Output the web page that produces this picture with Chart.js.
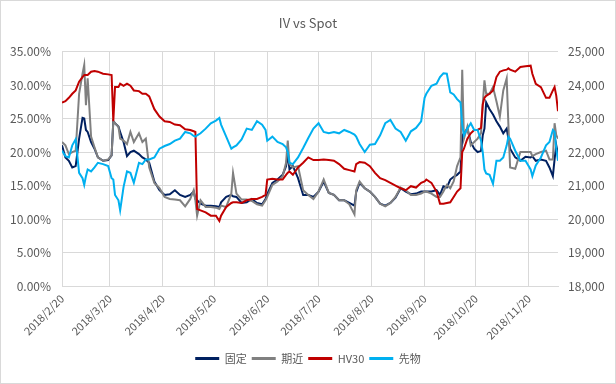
<!DOCTYPE html>
<html>
<head>
<meta charset="utf-8">
<title>IV vs Spot</title>
<script src="https://cdn.jsdelivr.net/npm/chart.js@4.4.0/dist/chart.umd.min.js"></script>
<style>
  html, body { margin: 0; padding: 0; background: #fff; }
  #wrap { width: 616px; height: 384px; }
</style>
</head>
<body>
<div id="wrap"><canvas id="ivChart" width="616" height="384"></canvas></div>
<script>
const dates = [
  '2/20', '2/22', '2/24', '2/26', '2/28', '3/2', '3/4', '3/5', '3/6', '3/7',
  '3/9', '3/11', '3/13', '3/16', '3/19', '3/21', '3/22', '3/23', '3/25', '3/26',
  '3/28', '3/30', '4/1', '4/3', '4/6', '4/8', '4/10', '4/12', '4/15', '4/18',
  '4/21', '4/24', '4/27', '4/30', '5/3', '5/6', '5/8', '5/9', '5/10', '5/12',
  '5/15', '5/18', '5/21', '5/23', '5/24', '5/27', '5/30', '5/31', '6/2', '6/5',
  '6/8', '6/11', '6/14', '6/17', '6/19', '6/20', '6/23', '6/26', '6/29', '7/1',
  '7/2', '7/3', '7/5', '7/8', '7/11', '7/14', '7/17', '7/20', '7/23', '7/26',
  '7/29', '8/1', '8/4', '8/7', '8/10', '8/11', '8/13', '8/16', '8/19', '8/22',
  '8/25', '8/28', '8/31', '9/3', '9/6', '9/9', '9/12', '9/15', '9/18', '9/20',
  '9/21', '9/24', '9/27', '9/29', '10/1', '10/3', '10/5', '10/7', '10/9', '10/11',
  '10/12', '10/13', '10/15', '10/17', '10/19', '10/21', '10/23', '10/24', '10/25', '10/26',
  '10/28', '10/30', '11/1', '11/3', '11/5', '11/7', '11/8', '11/9', '11/12', '11/15',
  '11/18', '11/21', '11/22', '11/24', '11/27', '11/30', '12/2', '12/4', '12/5', '12/6',
  '12/7'
];

// 固定 (%)
const fixedIV = [
  21.0, 19.2, 18.7, 17.7, 17.9, 22.0, 25.1, 25.0, 23.3, 23.0,
  21.5, 20.5, 19.2, 18.7, 18.8, 19.5, 24.6, 24.3, 23.8, 23.0,
  21.5, 19.4, 20.0, 20.2, 19.7, 19.2, 18.9, 18.4, 15.6, 14.3,
  13.6, 13.7, 14.3, 13.6, 13.3, 13.6, 14.1, 13.0, 12.8, 12.3,
  12.0, 12.0, 11.9, 11.8, 12.5, 13.3, 13.6, 13.4, 13.3, 12.4,
  12.5, 13.0, 12.4, 12.2, 13.0, 13.7, 15.4, 15.9, 16.6, 17.9,
  19.7, 17.4, 17.9, 16.1, 13.6, 13.6, 13.3, 14.1, 15.6, 13.9,
  13.6, 12.8, 12.8, 12.4, 12.0, 14.0, 15.4, 14.6, 14.1, 13.3,
  12.3, 12.0, 12.4, 13.2, 14.6, 14.1, 13.7, 13.8, 14.1, 14.1,
  14.1, 14.1, 14.3, 13.6, 14.9, 14.7, 15.9, 16.3, 16.6, 17.1,
  22.5, 22.8, 23.5, 21.5, 20.5, 20.0, 20.2, 22.5, 23.5, 27.4,
  26.4, 25.6, 24.6, 23.8, 22.8, 23.5, 22.0, 20.5, 19.2, 18.7,
  19.3, 19.2, 19.4, 18.7, 18.9, 18.7, 17.7, 16.4, 18.9, 21.0,
  19.7
];

// 期近 (%)
const nearIV = [
  21.5, 21.0, 19.7, 20.0, 20.2, 28.7, 31.7, 33.0, 27.0, 31.0,
  22.3, 20.7, 19.2, 18.7, 18.9, 19.5, 24.6, 24.3, 23.8, 22.0,
  21.7, 21.2, 23.0, 21.5, 22.8, 21.5, 22.0, 17.7, 15.4, 14.6,
  13.3, 13.0, 12.9, 12.8, 11.9, 13.0, 14.3, 12.8, 10.5, 12.8,
  11.8, 11.8, 11.7, 11.5, 12.0, 11.8, 13.8, 16.9, 13.8, 12.9,
  12.9, 12.7, 12.2, 12.0, 12.8, 13.3, 15.1, 15.6, 16.4, 18.4,
  21.7, 18.2, 17.7, 17.9, 14.3, 13.6, 13.0, 14.1, 15.9, 13.9,
  13.6, 12.8, 12.8, 12.2, 10.7, 14.3, 15.6, 14.6, 14.1, 13.3,
  12.3, 11.9, 12.4, 13.3, 14.7, 14.3, 13.6, 13.6, 13.8, 14.1,
  14.1, 13.8, 13.3, 13.3, 14.1, 15.1, 14.6, 15.6, 17.9, 19.2,
  32.3, 22.0, 23.8, 21.0, 21.5, 22.0, 22.8, 27.1, 30.7, 28.7,
  28.7, 29.7, 27.6, 25.3, 29.2, 31.0, 24.1, 17.7, 17.5, 20.0,
  20.0, 20.0, 19.4, 19.7, 20.0, 20.2, 18.9, 18.9, 24.3, 22.5,
  22.0
];

// HV30 (%)
const hv30 = [
  27.4, 27.6, 28.1, 28.7, 29.2, 30.5, 31.2, 31.5, 31.5, 31.5,
  32.0, 32.1, 32.0, 31.7, 31.6, 31.5, 24.6, 29.7, 29.7, 30.2,
  29.9, 30.2, 29.9, 29.2, 29.1, 28.7, 28.7, 28.3, 26.4, 25.3,
  24.6, 24.5, 24.1, 24.0, 23.4, 23.3, 23.1, 23.0, 11.5, 11.3,
  11.0, 10.5, 10.5, 9.7, 10.5, 11.8, 12.4, 12.5, 12.5, 12.4,
  12.8, 13.0, 13.0, 13.3, 13.6, 15.9, 16.0, 15.9, 15.9, 16.6,
  16.9, 17.1, 16.6, 17.7, 18.4, 19.2, 18.8, 18.8, 18.9, 18.8,
  18.7, 18.2, 17.5, 17.3, 17.1, 18.2, 18.5, 18.4, 17.9, 16.9,
  16.1, 15.8, 15.4, 15.0, 14.6, 14.3, 14.9, 14.7, 15.4, 15.6,
  15.9, 15.4, 14.1, 12.3, 12.3, 12.4, 12.5, 13.3, 14.1, 14.6,
  20.0, 20.5, 22.0, 22.8, 23.3, 23.3, 23.6, 27.1, 28.1, 28.4,
  28.7, 29.2, 31.2, 32.0, 32.2, 32.3, 32.5, 32.3, 32.0, 32.7,
  32.8, 32.9, 31.7, 30.2, 29.7, 28.1, 28.1, 29.2, 29.7, 28.4,
  26.1
];

// 先物 (yen, right axis)
const futures = [
  22040, 21880, 21840, 22200, 22380, 21380, 21220, 21020, 21280, 21480,
  21420, 21540, 21680, 21640, 21580, 21220, 21180, 20720, 20560, 20260,
  20960, 21420, 21380, 21080, 21680, 21640, 21780, 21780, 21840, 22100,
  22180, 22240, 22340, 22400, 22600, 22560, 22480, 22460, 22500, 22560,
  22700, 22860, 22940, 23020, 22820, 22460, 22100, 22140, 22200, 22380,
  22700, 22660, 22920, 22820, 22660, 22340, 22460, 22300, 22240, 22140,
  22000, 21680, 21640, 21840, 22120, 22420, 22700, 22860, 22600, 22560,
  22600, 22560, 22660, 22600, 22520, 22460, 22240, 22000, 22220, 22240,
  22500, 22860, 22960, 22700, 22600, 22340, 22620, 22720, 22920, 23620,
  23740, 23980, 24040, 24240, 24350, 24340, 23780, 23720, 23580, 23480,
  22820, 22500, 22700, 22860, 22660, 22660, 22340, 22000, 21480, 21360,
  21320, 21050, 21740, 21740, 21840, 22200, 22460, 22400, 22040, 21740,
  21740, 21480, 21280, 21600, 21840, 22200, 22300, 22660, 22600, 22100,
  21740
];

const tickDates = ['2/20', '3/20', '4/20', '5/20', '6/20', '7/20', '8/20', '9/20', '10/20', '11/20'];

// days since 2018/2/20, so the x axis is spaced by calendar date like Excel's date axis
const dayOf = (md) => {
  const [m, d] = md.split('/').map(Number);
  return Math.round((Date.UTC(2018, m - 1, d) - Date.UTC(2018, 1, 20)) / 864e5);
};
const xDays = dates.map(dayOf);
const tickDays = tickDates.map(dayOf);

const GRID = '#d9d9d9';
const TEXT = '#595959';
const FONT = "'Noto Sans CJK JP', 'Noto Sans', sans-serif";

Chart.defaults.font.family = FONT;
Chart.defaults.color = TEXT;

const frame = {
  id: 'frame',
  beforeDraw(chart) {
    const { ctx, width, height } = chart;
    ctx.save();
    ctx.fillStyle = '#fff';
    ctx.fillRect(0, 0, width, height);
    ctx.strokeStyle = GRID;
    ctx.lineWidth = 1;
    ctx.strokeRect(0.5, 0.5, width - 1, height - 1);
    ctx.restore();
  }
};

const line = (label, data, color, axis) => ({
  label: label,
  data: data,
  yAxisID: axis,
  borderColor: color,
  backgroundColor: color,
  borderWidth: 2,
  pointRadius: 0,
  tension: 0,
  fill: false
});

new Chart(document.getElementById('ivChart'), {
  type: 'line',
  data: {
    labels: xDays,
    datasets: [
      // order: Excel draws later series on top
      { ...line('固定', fixedIV, '#002060', 'y'), order: 4 },
      { ...line('期近', nearIV, '#808080', 'y'), order: 3 },
      { ...line('HV30', hv30, '#C00000', 'y'), order: 2 },
      { ...line('先物', futures, '#00B0F0', 'y2'), order: 1 }
    ]
  },
  plugins: [frame],
  options: {
    responsive: false,
    animation: false,
    devicePixelRatio: 1,
    layout: { padding: { bottom: 10 } },
    plugins: {
      title: {
        display: true,
        text: 'IV vs Spot',
        color: TEXT,
        font: { size: 13, weight: 'normal' },
        padding: { top: 15, bottom: 21 }
      },
      legend: {
        position: 'bottom',
        labels: {
          usePointStyle: true,
          pointStyle: 'line',
          pointStyleWidth: 24,
          padding: 5,
          color: TEXT,
          font: { size: 11 },
          sort: (a, b) => a.datasetIndex - b.datasetIndex,
          generateLabels: (chart) =>
            Chart.defaults.plugins.legend.labels.generateLabels(chart).map(l => ({ ...l, lineWidth: 3 }))
        }
      },
      tooltip: { enabled: false }
    },
    scales: {
      x: {
        type: 'linear',
        min: 0,
        max: 290,
        grid: { color: GRID, drawTicks: false },
        border: { color: GRID },
        afterBuildTicks: (scale) => {
          scale.ticks = tickDays.map(v => ({ value: v }));
        },
        afterFit: (scale) => { scale.height = 62; },
        ticks: {
          autoSkip: false,
          minRotation: 45,
          maxRotation: 45,
          padding: 6,
          font: { size: 11 },
          callback: (value) => {
            const i = tickDays.indexOf(value);
            return i >= 0 ? '2018/' + tickDates[i] : '';
          }
        }
      },
      y: {
        position: 'left',
        min: 0,
        max: 35,
        grid: { color: GRID, drawTicks: false },
        border: { display: false },
        afterFit: (scale) => { scale.width = 62; },
        ticks: {
          stepSize: 5,
          padding: 11,
          font: { size: 12 },
          callback: (v) => v.toFixed(2) + '%'
        }
      },
      y2: {
        position: 'right',
        min: 18000,
        max: 25000,
        grid: { drawOnChartArea: false, drawTicks: false },
        border: { display: false },
        afterFit: (scale) => { scale.width = 58; },
        ticks: {
          stepSize: 1000,
          padding: 10,
          font: { size: 12 },
          callback: (v) => v.toLocaleString('en-US')
        }
      }
    }
  }
});
</script>
</body>
</html>
